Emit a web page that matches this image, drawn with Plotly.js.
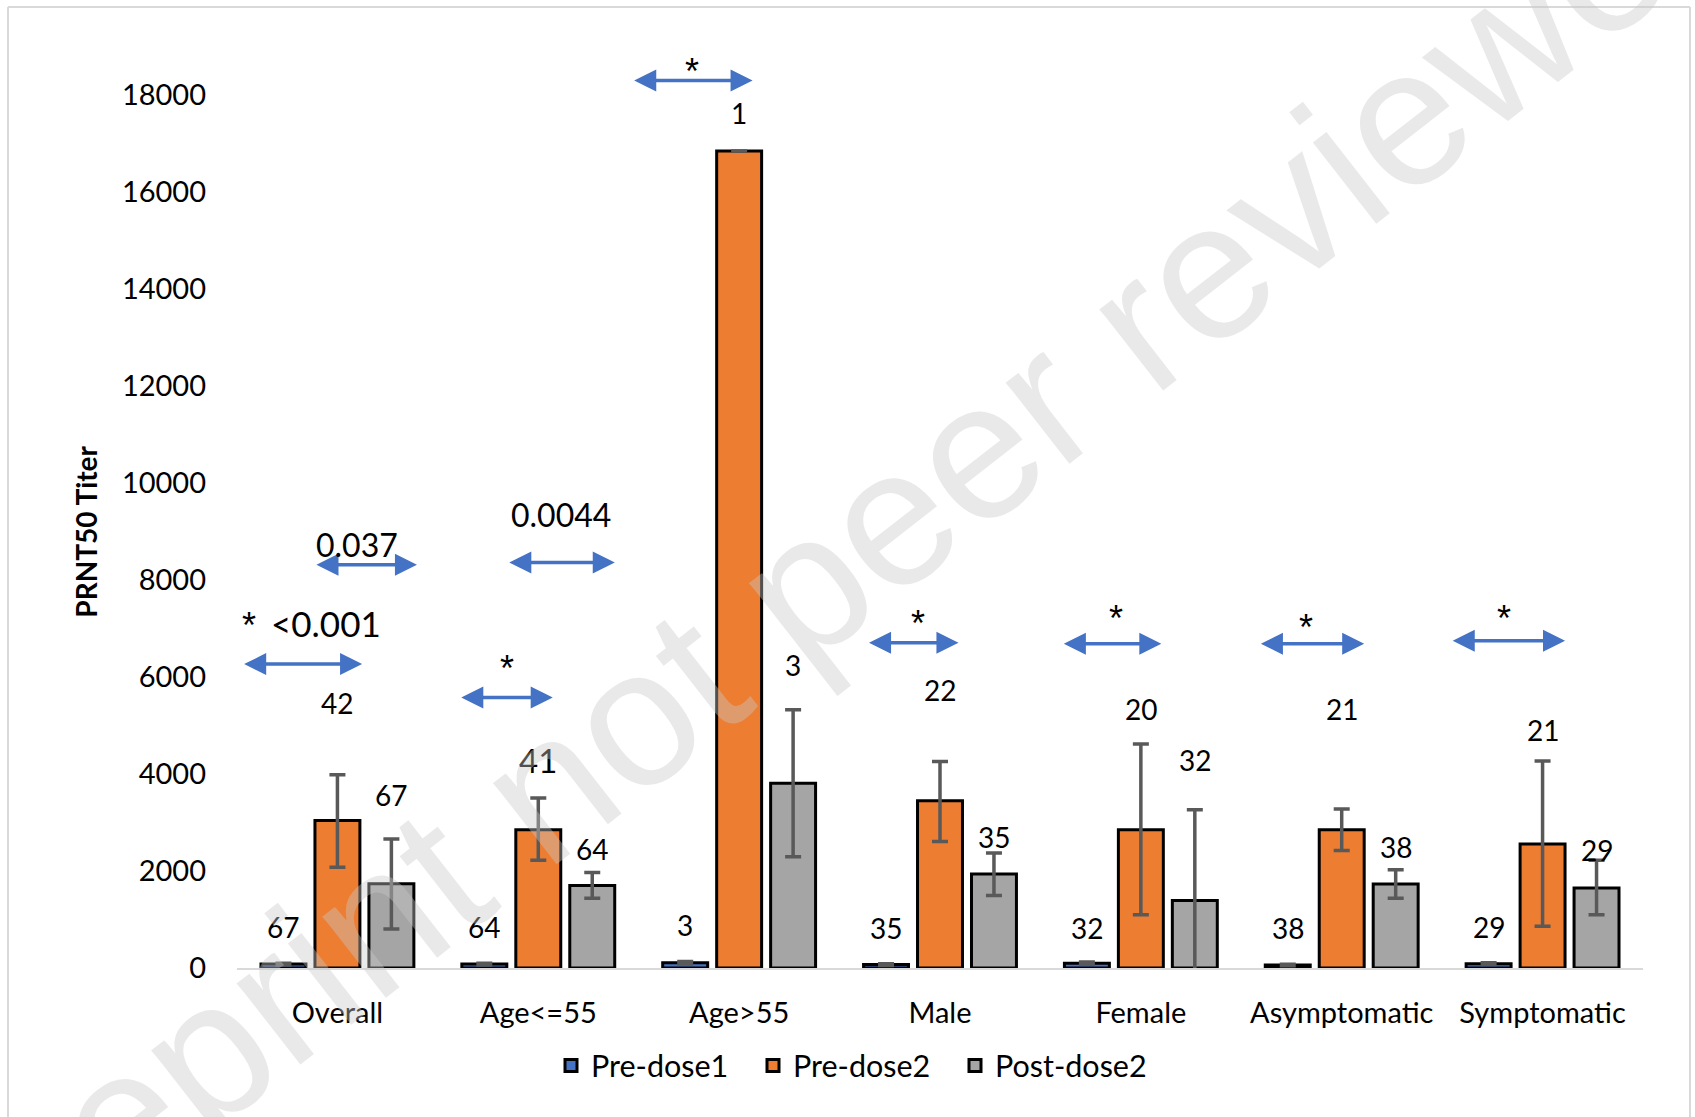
<!DOCTYPE html>
<html>
<head>
<meta charset="utf-8">
<script src="https://cdn.plot.ly/plotly-3.0.1.min.js"></script>
<style>html,body{margin:0;padding:0;background:#fff;}#chart{width:1695px;height:1117px;}</style>
</head>
<body>
<div id="chart"></div>
<script>
// ---- data ----
var categories = ['Overall', 'Age<=55', 'Age>55', 'Male', 'Female', 'Asymptomatic', 'Symptomatic'];
var seriesNames = ['Pre-dose1', 'Pre-dose2', 'Post-dose2'];

var preDose1 = [80, 80, 110, 70, 100, 60, 90];
var preDose1ErrPlus = [20, 20, 25, 20, 25, 15, 20];
var preDose1ErrMinus = [20, 20, 25, 20, 25, 15, 20];

var preDose2 = [3040, 2850, 16850, 3450, 2850, 2850, 2560];
var preDose2ErrPlus = [945, 655, 0, 810, 1770, 430, 1710];
var preDose2ErrMinus = [960, 630, 0, 840, 1750, 425, 1700];

var postDose2 = [1740, 1700, 3810, 1940, 1390, 1730, 1650];
var postDose2ErrPlus = [920, 270, 1515, 430, 1875, 295, 570];
var postDose2ErrMinus = [935, 260, 1515, 445, 1875, 290, 550];

// sample sizes shown above the bars
var nPreDose1 = [67, 64, 3, 35, 32, 38, 29];
var nPreDose2 = [42, 41, 1, 22, 20, 21, 21];
var nPostDose2 = [67, 64, 3, 35, 32, 38, 29];

var yTickVals = [0, 2000, 4000, 6000, 8000, 10000, 12000, 14000, 16000, 18000];

// significance comparison labels
var sigLabels = ['* <0.001', '0.037', '0.0044', '*', '*', '*', '*', '*', '*'];

// ---- layout / placement (not data) ----
var FONT = 'Lato, "Open Sans", sans-serif';
var STARFONT = '"Liberation Sans", Arial, sans-serif';
var colors = ['#4472C4', '#ED7D31', '#A5A5A5'];
var bargap = 0.194, bargroupgap = 0.167;
var slot = (1 - bargap) / 3;       // category-units offset between grouped bars
var offsets = [-slot, 0, slot];

// label heights (data units) for the n labels
var labelYPre1 = [810, 810, 850, 790, 790, 790, 810];
var labelYPre2 = [5430, 4250, 17600, 5700, 5310, 5310, 4870];
var labelYPost2 = [3530, 2420, 6200, 2660, 4240, 2460, 2400];
var labelSizePre2 = [28, 33, 28, 28, 28, 28, 28];

// arrows: [xStart, xEnd, y] in category units / data units
var arrows = [
  [-0.472, 0.123, 6268],
  [-0.112, 0.396, 8315],
  [0.609, 1.072, 5580],
  [0.848, 1.381, 8363],
  [1.470, 2.067, 18303],
  [2.639, 3.092, 6707],
  [3.609, 4.102, 6687],
  [4.590, 5.112, 6687],
  [5.545, 6.112, 6749]
];

function mkTrace(name, y, ep, em, color) {
  return {
    type: 'bar', name: name, x: categories, y: y,
    marker: {color: color, line: {color: '#000000', width: 3}},
    error_y: {type: 'data', symmetric: false, array: ep, arrayminus: em,
              color: '#595959', thickness: 3.5, width: 8},
    hoverinfo: 'x+y'
  };
}

var traces = [
  mkTrace(seriesNames[0], preDose1, preDose1ErrPlus, preDose1ErrMinus, colors[0]),
  mkTrace(seriesNames[1], preDose2, preDose2ErrPlus, preDose2ErrMinus, colors[1]),
  mkTrace(seriesNames[2], postDose2, postDose2ErrPlus, postDose2ErrMinus, colors[2])
];

var annotations = [];
function txt(x, y, text, size, yshift, family) {
  annotations.push({xref: 'x', yref: 'y', x: x, y: y, text: text, showarrow: false,
    font: {family: family || FONT, size: size, color: '#000'}, yshift: yshift || 0});
}
for (var i = 0; i < categories.length; i++) {
  txt(i + offsets[0], labelYPre1[i], String(nPreDose1[i]), 28, 2);
  txt(i + offsets[1], labelYPre2[i], String(nPreDose2[i]), labelSizePre2[i], 2);
  txt(i + offsets[2], labelYPost2[i], String(nPostDose2[i]), 28, 2);
}

// arrows
arrows.forEach(function (a) {
  annotations.push({xref: 'x', yref: 'y', axref: 'x', ayref: 'y',
    x: a[1], y: a[2], ax: a[0], ay: a[2], text: ' ', font: {size: 1},
    showarrow: true, arrowside: 'end+start', arrowhead: 2, startarrowhead: 2,
    arrowsize: 1.26, startarrowsize: 1.26, arrowwidth: 3.5, arrowcolor: '#4472C4'});
});

// significance text positions
var sigPos = [
  null,
  [(357 - 237) / 201 - 0.5, 8800, 32],
  [(561 - 237) / 201 - 0.5, 9420, 32],
  [(507 - 237) / 201 - 0.5, 6300, 36],
  [(692 - 237) / 201 - 0.5, 18620, 36],
  [(918 - 237) / 201 - 0.5, 7220, 36],
  [(1117 - 237) / 201 - 0.5, 7340, 36],
  [(1307 - 237) / 201 - 0.5, 7140, 36],
  [(1505 - 237) / 201 - 0.5, 7325, 36]
];
// "* <0.001" is drawn as a star plus the p value
txt((249 - 237) / 201 - 0.5, 7190, '*', 36, -6, STARFONT);
txt((326 - 237) / 201 - 0.5, 7040, sigLabels[0].replace('* ', ''), 35, 4);
for (var k = 1; k < sigLabels.length; k++) {
  if (sigLabels[k] === '*') txt(sigPos[k][0], sigPos[k][1], '*', sigPos[k][2], -6, STARFONT);
  else txt(sigPos[k][0], sigPos[k][1], sigLabels[k], sigPos[k][2], -3);
}

// y axis title
annotations.push({xref: 'paper', yref: 'y', x: (86 - 237) / 1406, y: 9000, text: '<b>PRNT50 Titer</b>',
  xanchor: 'center', yanchor: 'middle',
  textangle: -90, showarrow: false, font: {family: FONT, size: 28, color: '#000'}});

// watermark of the preprint server
annotations.push({xref: 'paper', yref: 'paper', x: (824 - 237) / 1406, y: (968.3 - 569) / 960.3,
  xanchor: 'center', yanchor: 'middle',
  text: 'Preprint not peer reviewed', textangle: -38, showarrow: false,
  font: {family: '"Liberation Sans", Arial, sans-serif', size: 195, color: 'rgba(200,200,200,0.4)'}});

// outer frame
var fx0 = (8 - 237) / 1406, fx1 = (1690 - 237) / 1406, fy1 = (968.3 - 7) / 960.3, fy0 = (968.3 - 1120) / 960.3;
var frame = {color: '#D9D9D9', width: 2};
var shapes = [
  {type: 'line', xref: 'paper', yref: 'paper', x0: fx0, x1: fx1, y0: fy1, y1: fy1, line: frame},
  {type: 'line', xref: 'paper', yref: 'paper', x0: fx0, x1: fx0, y0: fy0, y1: fy1, line: frame},
  {type: 'line', xref: 'paper', yref: 'paper', x0: fx1, x1: fx1, y0: fy0, y1: fy1, line: frame}
];

var layout = {
  width: 1695, height: 1117,
  margin: {l: 237, r: 52, t: 8, b: 149, pad: 0},
  paper_bgcolor: '#ffffff', plot_bgcolor: '#ffffff',
  font: {family: FONT, size: 29, color: '#000'},
  barmode: 'group', bargap: bargap, bargroupgap: bargroupgap,
  showlegend: true,
  legend: {orientation: 'h', x: (551 - 237) / 1406, xanchor: 'left', y: (968.3 - 1066) / 960.3, yanchor: 'middle',
           entrywidth: 157, entrywidthmode: 'pixels',
           font: {family: FONT, size: 30.5, color: '#000'}, bgcolor: 'rgba(0,0,0,0)', traceorder: 'normal'},
  xaxis: {type: 'category', range: [-0.5, 6.5], showgrid: false, zeroline: false,
          showline: true, linecolor: '#D9D9D9', linewidth: 2, ticks: '',
          tickfont: {family: FONT, size: 29, color: '#000'}, ticklabelstandoff: 18, fixedrange: true},
  yaxis: {range: [0, 19800], tickvals: yTickVals, tickformat: 'd', showgrid: false, zeroline: false,
          showline: false, ticks: '', tickfont: {family: FONT, size: 29, color: '#000'},
          ticklabelstandoff: 30, fixedrange: true},
  annotations: annotations,
  shapes: shapes
};

Plotly.newPlot('chart', traces, layout, {displayModeBar: false, responsive: false});
</script>
</body>
</html>
